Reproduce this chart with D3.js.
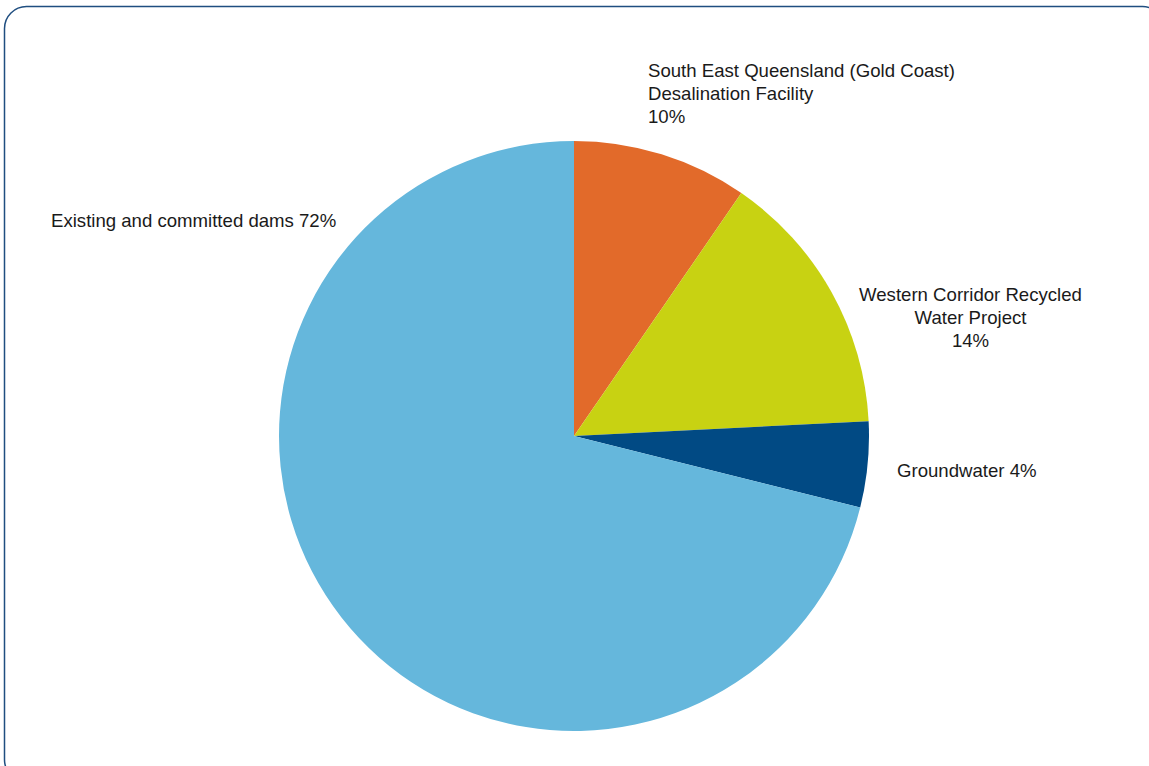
<!DOCTYPE html>
<html>
<head>
<meta charset="utf-8">
<script src="https://cdn.jsdelivr.net/npm/d3@7"></script>
<style>
  body { margin: 0; background: #fff; }
  svg text { font-family: "Liberation Sans", Arial, sans-serif; font-size: 18.6px; fill: #1a1a1a; }
</style>
</head>
<body>
<script>
// slices clockwise from 12 o'clock
const categories = ["South East Queensland (Gold Coast) Desalination Facility", "Western Corridor Recycled Water Project", "Groundwater", "Existing and committed dams"];
const shares = [9.6, 14.6, 4.7, 71.1];
const pctLabels = ["10%", "14%", "4%", "72%"];
const sliceColors = ["#e26a2a", "#c8d212", "#014a84", "#65b7dc"];

const width = 1149, height = 766;
const cx = 574, cy = 436, radius = 295;

const svg = d3.select("body").append("svg")
    .attr("width", width)
    .attr("height", height);

// frame
svg.append("rect")
    .attr("x", 4.5).attr("y", 6.5)
    .attr("width", 1160).attr("height", 775)
    .attr("rx", 22).attr("ry", 22)
    .attr("fill", "none")
    .attr("stroke", "#1f4e80")
    .attr("stroke-width", 1.5);

const data = categories.map((c, i) => ({name: c, value: shares[i], pct: pctLabels[i], color: sliceColors[i]}));

const pie = d3.pie().sort(null).value(d => d.value);
const arc = d3.arc().innerRadius(0).outerRadius(radius);

let g = svg.append("g").attr("transform", `translate(${cx}, ${cy})`);

g.selectAll("path")
    .data(pie(data))
    .enter()
    .append("path")
    .attr("d", arc)
    .attr("fill", d => d.data.color);

// labels
const labelSpecs = [
    {lines: ["South East Queensland (Gold Coast)", "Desalination Facility", pctLabels[0]], x: 648, y: 77, anchor: "start"},
    {lines: ["Western Corridor Recycled", "Water Project", pctLabels[1]], x: 970.5, y: 301, anchor: "middle"},
    {lines: ["Groundwater " + pctLabels[2]], x: 897, y: 477, anchor: "start"},
    {lines: ["Existing and committed dams " + pctLabels[3]], x: 51, y: 227, anchor: "start"}
];

labelSpecs.forEach(s => {
    let t = svg.append("text")
        .attr("x", s.x).attr("y", s.y)
        .attr("text-anchor", s.anchor);
    s.lines.forEach((line, i) => {
        t.append("tspan").attr("x", s.x).attr("dy", i === 0 ? 0 : 23).text(line);
    });
});
</script>
</body>
</html>
